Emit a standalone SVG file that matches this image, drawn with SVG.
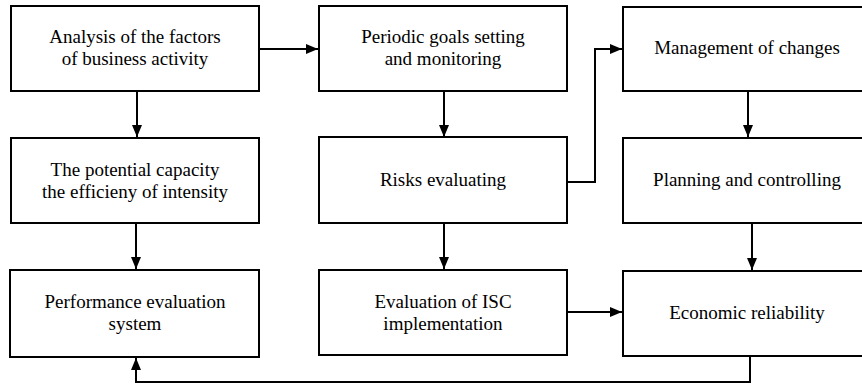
<svg xmlns="http://www.w3.org/2000/svg" width="862" height="385" viewBox="0 0 862 385">
<style>
.box{fill:#fff;stroke:#000;stroke-width:2}
.t{font-family:'Liberation Serif','Times New Roman',Times,serif;font-size:19px;fill:#000;text-anchor:middle}
.c{fill:none;stroke:#000;stroke-width:2}
</style>
<defs>
<marker id="ah" markerUnits="userSpaceOnUse" markerWidth="12" markerHeight="10" refX="12" refY="5" orient="auto">
<path d="M0,0 L12,5 L0,10 Z" fill="#000"/>
</marker>
</defs>
<rect width="862" height="385" fill="#fff"/>
<g id="connectors">
<path class="c" d="M259,49 H318" marker-end="url(#ah)"/>
<path class="c" d="M137,91 V137" marker-end="url(#ah)"/>
<path class="c" d="M136,223 V269" marker-end="url(#ah)"/>
<path class="c" d="M444,91 V137" marker-end="url(#ah)"/>
<path class="c" d="M444,223 V269" marker-end="url(#ah)"/>
<path class="c" d="M567,182 H595 V49 H622" marker-end="url(#ah)"/>
<path class="c" d="M748,91 V137" marker-end="url(#ah)"/>
<path class="c" d="M752,223 V270" marker-end="url(#ah)"/>
<path class="c" d="M567,312 H622" marker-end="url(#ah)"/>
<path class="c" d="M750,356 V382 H136 V358" marker-end="url(#ah)"/>
</g>
<g id="n1"><rect class="box" x="11" y="6" width="248" height="85"/><text class="t" x="135" y="43">Analysis of the factors</text><text class="t" x="135" y="65">of business activity</text></g>
<g id="n2"><rect class="box" x="319" y="6" width="248" height="85"/><text class="t" x="443" y="43">Periodic goals setting</text><text class="t" x="443" y="65">and monitoring</text></g>
<g id="n3"><rect class="box" x="623" y="7" width="250" height="84"/><text class="t" x="747" y="54">Management of changes</text></g>
<g id="n4"><rect class="box" x="11" y="138" width="248" height="85"/><text class="t" x="135" y="176">The potential capacity</text><text class="t" x="135" y="198">the efficieny of intensity</text></g>
<g id="n5"><rect class="box" x="319" y="137" width="248" height="86"/><text class="t" x="443" y="186">Risks evaluating</text></g>
<g id="n6"><rect class="box" x="623" y="138" width="250" height="85"/><text class="t" x="747" y="186">Planning and controlling</text></g>
<g id="n7"><rect class="box" x="10" y="270" width="249" height="87"/><text class="t" x="135" y="308">Performance evaluation</text><text class="t" x="135" y="330">system</text></g>
<g id="n8"><rect class="box" x="319" y="270" width="248" height="85"/><text class="t" x="443" y="308">Evaluation of ISC</text><text class="t" x="443" y="330">implementation</text></g>
<g id="n9"><rect class="box" x="623" y="271" width="250" height="85"/><text class="t" x="747" y="319">Economic reliability</text></g>
</svg>
